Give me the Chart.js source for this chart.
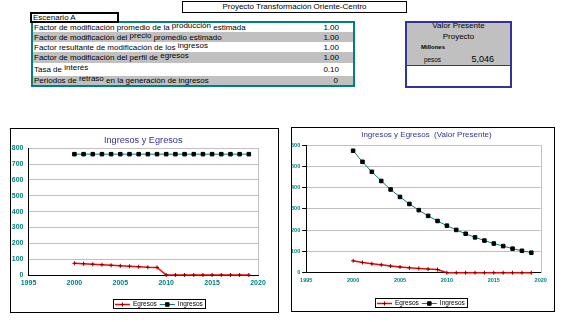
<!DOCTYPE html>
<html>
<head>
<meta charset="utf-8">
<title>Proyecto Transformación Oriente-Centro</title>
<script src="https://cdn.jsdelivr.net/npm/chart.js@4.4.1/dist/chart.umd.min.js"></script>
<style>
  body {
    margin: 0; width: 562px; height: 322px; position: relative; overflow: hidden;
    background: #fff; color: #000;
    font-family: "Liberation Sans", Arial, sans-serif; font-size: 8px;
  }
  .abs { position: absolute; box-sizing: border-box; white-space: nowrap; }
  #titulo { left: 182px; top: 1px; width: 225px; height: 12px; border: 1px solid #000; text-align: center; line-height: 10px; }
  #factores { left: 31px; top: 21px; width: 324px; height: 66px; border: 2px solid #008080; }
  #escenario { left: 30px; top: 12px; width: 89px; height: 11px; border: 2px solid #000; background: #fff; line-height: 7px; padding-left: 1px; }
  .fila { display: flex; justify-content: space-between; align-items: center; padding: 0 14px 0 1px; }
  .gris { background: #c0c0c0; }
  .up { position: relative; top: -2px; }
  #vp { left: 405px; top: 21px; width: 107px; height: 67px; border: 2px solid #333399; }
  #vpFondo { height: 42px; background: #c0c0c0; border-bottom: 1px solid #333399; }
  .caja { position: absolute; box-sizing: border-box; border: 1px solid #000; background: #fff; }
  .caja canvas { display: block; }
</style>
</head>
<body>

<div class="abs" id="titulo">Proyecto Transformación Oriente-Centro</div>

<div class="abs" id="factores">
  <div class="fila" style="height:9px"><span>Factor de modificación promedio de la <span class="up">producción</span> estimada</span><span>1.00</span></div>
  <div class="fila gris" style="height:10px"><span>Factor de modificación del <span class="up">precio</span> promedio estimado</span><span>1.00</span></div>
  <div class="fila" style="height:10px"><span>Factor resultante de modificación de los <span class="up">ingresos</span></span><span>1.00</span></div>
  <div class="fila gris" style="height:11px"><span>Factor de modificación del perfil de <span class="up">egresos</span></span><span>1.00</span></div>
  <div class="fila" style="height:13px"><span>Tasa de <span class="up">interés</span></span><span>0.10</span></div>
  <div class="fila gris" style="height:9px"><span>Periodos de <span class="up">retraso</span> en la generación de ingresos</span><span style="margin-right:1px">0</span></div>
</div>
<div class="abs" id="escenario">Escenario A</div>

<div class="abs" id="vp"><div id="vpFondo"></div></div>
<div class="abs" style="left:405px;top:21px;width:107px;text-align:center;line-height:10px">Valor Presente</div>
<div class="abs" style="left:405px;top:32px;width:107px;text-align:center;line-height:10px">Proyecto</div>
<div class="abs" style="left:421px;top:43px;font-size:6px;font-weight:bold;line-height:8px">Millones</div>
<div class="abs" style="left:424px;top:56px;font-size:6.4px;line-height:8px">pesos</div>
<div class="abs" style="left:454px;top:54px;width:40px;text-align:right;font-size:9px;line-height:10px">5,046</div>

<div class="caja" style="left:10px;top:128px;width:269px;height:185px">
  <canvas id="chartNominal" width="267" height="183"></canvas>
</div>
<div class="caja" style="left:291px;top:127px;width:264px;height:185px">
  <canvas id="chartPresente" width="262" height="183"></canvas>
</div>

<script>
// Years with cash flows
var years = [2000, 2001, 2002, 2003, 2004, 2005, 2006, 2007, 2008, 2009,
             2010, 2011, 2012, 2013, 2014, 2015, 2016, 2017, 2018, 2019];

// Nominal flows, millions of pesos
var ingresos = [763, 763, 763, 763, 763, 763, 763, 763, 763, 763,
                763, 763, 763, 763, 763, 763, 763, 763, 763, 763];
var egresos = [74, 71, 68, 65, 61, 58, 55, 52, 49, 48,
               0, 0, 0, 0, 0, 0, 0, 0, 0, 0];

// Same flows at present value
var ingresosVP = [573, 521, 474, 431, 391, 356, 323, 294, 267, 243,
                  221, 201, 183, 166, 151, 137, 125, 113, 103, 94];
var egresosVP = [56, 48, 42, 37, 31, 27, 23, 20, 17, 15,
                 0, 0, 0, 0, 0, 0, 0, 0, 0, 0];

// Tick labels
var yearTicks = [1995, 2000, 2005, 2010, 2015, 2020];
var flowTicks = [0, 100, 200, 300, 400, 500, 600, 700, 800];
var flowTicksVP = [0, 100, 200, 300, 400, 500, 600];

var FONT = '"Liberation Sans", Arial, sans-serif';
var GRID = '#c0c0c0';
Chart.defaults.font.family = FONT;

function toPoints(values) {
  return years.map(function (yr, i) {
    return { x: yr, y: values[i] };
  });
}

function fixedTicks(list) {
  return function (scale) {
    scale.ticks = list.map(function (v) { return { value: v }; });
  };
}

function seriesEgresos(values) {
  return {
    label: 'Egresos',
    data: toPoints(values),
    borderColor: '#ff0000',
    borderWidth: 1.5,
    pointStyle: 'cross',
    pointRadius: 2,
    pointBorderColor: '#800000',
    pointBackgroundColor: '#800000',
    pointBorderWidth: 1,
    tension: 0,
    clip: false
  };
}

function seriesIngresos(values) {
  return {
    label: 'Ingresos',
    data: toPoints(values),
    borderColor: '#008080',
    borderWidth: 1,
    pointStyle: 'rect',
    pointRadius: 2.5,
    pointBorderColor: '#000',
    pointBackgroundColor: '#000',
    pointBorderWidth: 1,
    tension: 0,
    clip: false
  };
}

// Grey right edge of the plot area
var plotFrame = {
  id: 'plotFrame',
  beforeDatasetsDraw: function (chart) {
    var a = chart.chartArea, ctx = chart.ctx;
    var x = Math.round(a.right) + 0.5;
    ctx.save();
    ctx.strokeStyle = GRID;
    ctx.lineWidth = 1;
    ctx.beginPath();
    ctx.moveTo(x, Math.round(a.top));
    ctx.lineTo(x, Math.round(a.bottom));
    ctx.stroke();
    ctx.restore();
  }
};

// Title centred over the plot area
var plotTitle = {
  id: 'plotTitle',
  afterDraw: function (chart, args, opts) {
    var a = chart.chartArea, ctx = chart.ctx;
    ctx.save();
    ctx.font = opts.size + 'px ' + FONT;
    ctx.fillStyle = '#333399';
    ctx.textAlign = 'center';
    ctx.textBaseline = 'middle';
    ctx.fillText(opts.text, (a.left + a.right) / 2 + opts.dx, opts.y);
    ctx.restore();
  }
};

// Boxed legend with a line sample and marker for every series
var boxLegend = {
  id: 'boxLegend',
  afterDraw: function (chart, args, opts) {
    var ctx = chart.ctx;
    var sample = 15, gap = 3, pad = 2;
    ctx.save();
    ctx.font = opts.fontSize + 'px ' + FONT;
    var items = chart.data.datasets.map(function (ds) {
      return { ds: ds, w: ctx.measureText(ds.label).width };
    });
    var total = pad * 2;
    items.forEach(function (it, i) {
      total += sample + gap + it.w + (i ? gap : 0);
    });
    var x = Math.round(opts.cx - total / 2);
    var y = Math.round(opts.cy) + 0.5;
    ctx.strokeStyle = '#000';
    ctx.lineWidth = 1;
    ctx.strokeRect(x + 0.5, Math.round(opts.cy - opts.h / 2) + 0.5, Math.round(total), opts.h);
    x += pad;
    items.forEach(function (it, i) {
      var ds = it.ds;
      if (i) x += gap;
      ctx.strokeStyle = ds.borderColor;
      ctx.lineWidth = ds.borderWidth;
      ctx.beginPath();
      ctx.moveTo(x, y);
      ctx.lineTo(x + sample, y);
      ctx.stroke();
      ctx.fillStyle = ds.pointBackgroundColor;
      ctx.strokeStyle = ds.pointBorderColor;
      ctx.lineWidth = ds.pointBorderWidth;
      Chart.helpers.drawPoint(ctx, {
        pointStyle: ds.pointStyle,
        radius: ds.pointRadius,
        borderWidth: ds.pointBorderWidth,
        rotation: 0
      }, x + sample / 2, y);
      x += sample + gap;
      ctx.fillStyle = '#000';
      ctx.textBaseline = 'middle';
      ctx.fillText(ds.label, x, y);
      x += it.w;
    });
    ctx.restore();
  }
};

function makeChart(id, cfg) {
  return new Chart(document.getElementById(id), {
    type: 'line',
    data: { datasets: [seriesEgresos(cfg.egresos), seriesIngresos(cfg.ingresos)] },
    plugins: [plotFrame, plotTitle, boxLegend],
    options: {
      responsive: false,
      animation: false,
      devicePixelRatio: 1,
      layout: { padding: { top: cfg.padTop, right: cfg.padRight, bottom: 0, left: 0 } },
      plugins: {
        legend: { display: false },
        tooltip: { enabled: false },
        title: { display: false },
        plotTitle: cfg.title,
        boxLegend: cfg.legend
      },
      scales: {
        x: {
          type: 'linear',
          min: 1995,
          max: 2020,
          afterBuildTicks: fixedTicks(yearTicks),
          afterFit: function (s) { s.height = cfg.xHeight; },
          grid: { display: false, drawTicks: false },
          border: { display: true, color: '#000', width: 1 },
          ticks: {
            autoSkip: false,
            maxRotation: 0,
            padding: cfg.xPad,
            color: '#008080',
            font: { size: cfg.tickSize, weight: 'bold' },
            callback: function (v) { return String(v); }
          }
        },
        y: {
          min: 0,
          max: cfg.yMax,
          afterBuildTicks: fixedTicks(cfg.yTicks),
          afterFit: function (s) { s.width = cfg.yWidth; },
          grid: {
            color: function (c) { return c.tick && c.tick.value === 0 ? 'rgba(0,0,0,0)' : GRID; },
            lineWidth: 1,
            drawTicks: cfg.yTickMarks,
            tickLength: 4,
            tickColor: '#000'
          },
          border: { display: true, color: '#000', width: 1 },
          ticks: {
            padding: cfg.yPad,
            color: '#008080',
            font: { size: cfg.tickSize, weight: 'bold' }
          }
        }
      }
    }
  });
}

document.addEventListener('DOMContentLoaded', function () {
  makeChart('chartNominal', {
    title: { text: 'Ingresos y Egresos', size: 9.2, y: 11.7, dx: 0 },
    padTop: 19.3,
    ingresos: ingresos,
    egresos: egresos,
    yMax: 800,
    yTicks: flowTicks,
    padRight: 20,
    yWidth: 17.5,
    xHeight: 37,
    tickSize: 7,
    xPad: 4,
    yPad: 5,
    yTickMarks: false,
    legend: { cx: 148.3, cy: 174.7, h: 9, fontSize: 6.5 }
  });

  makeChart('chartPresente', {
    title: { text: 'Ingresos y Egresos  (Valor Presente)', size: 8, y: 7, dx: 3 },
    padTop: 17,
    ingresos: ingresosVP,
    egresos: egresosVP,
    yMax: 600,
    yTicks: flowTicksVP,
    padRight: 13.3,
    yWidth: 14.2,
    xHeight: 38.3,
    tickSize: 5.5,
    xPad: 4.7,
    yPad: 2,
    yTickMarks: true,
    legend: { cx: 128.8, cy: 174.8, h: 9, fontSize: 6.5 }
  });
});
</script>
</body>
</html>
